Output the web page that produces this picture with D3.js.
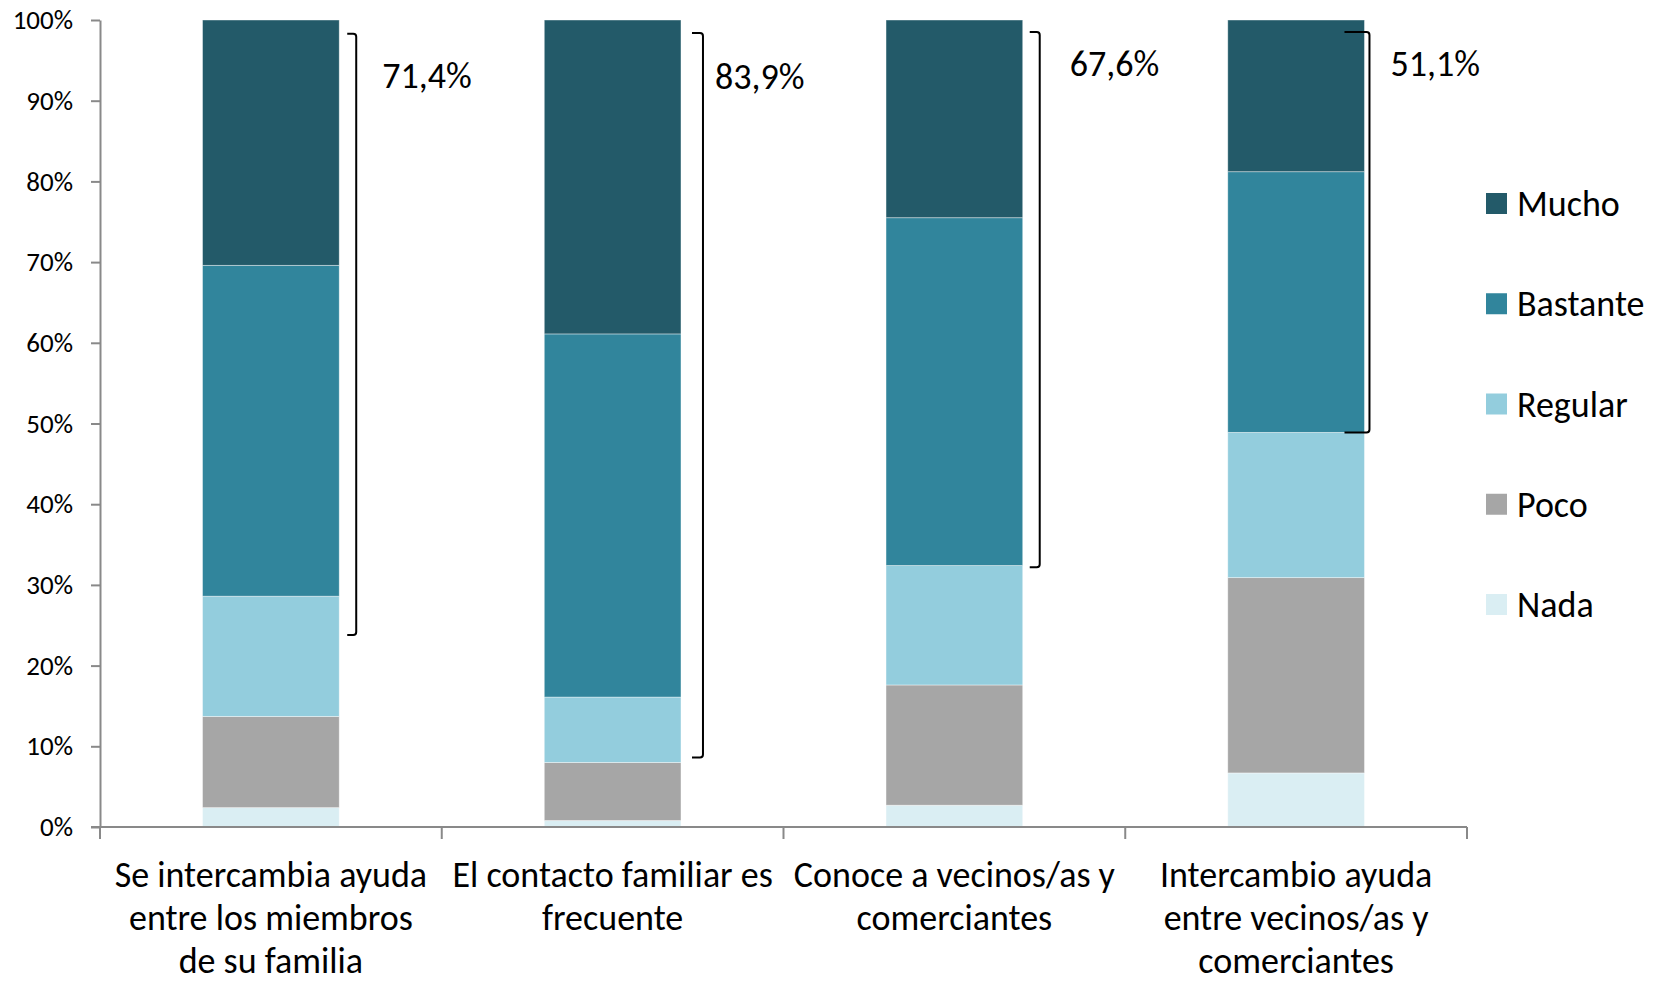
<!DOCTYPE html>
<html>
<head>
<meta charset="utf-8">
<script src="https://cdn.jsdelivr.net/npm/d3@7"></script>
<style>
  body { margin: 0; background: #fff; }
  text { font-family: Carlito, Calibri, Lato, sans-serif; fill: #000; }
</style>
</head>
<body>
<div id="chart"></div>
<script>
// data (percent of each answer)
var categories = [
    ["Se intercambia ayuda", "entre los miembros", "de su familia"],
    ["El contacto familiar es", "frecuente"],
    ["Conoce a vecinos/as y", "comerciantes"],
    ["Intercambio ayuda", "entre vecinos/as y", "comerciantes"]
];
var levels = ["Nada", "Poco", "Regular", "Bastante", "Mucho"];
var nada     = [2.4, 0.8, 2.7, 6.7];
var poco     = [11.3, 7.2, 14.9, 24.2];
var regular  = [14.9, 8.1, 14.8, 18.0];
var bastante = [41.0, 45.0, 43.1, 32.3];
var mucho    = [30.4, 38.9, 24.5, 18.8];
var yTicks = [0, 10, 20, 30, 40, 50, 60, 70, 80, 90, 100];

// brackets drawn on the right of each bar
var bracketLabels = ["71,4%", "83,9%", "67,6%", "51,1%"];
var bracketTop    = [98.3, 98.4, 98.5, 98.5];
var bracketBottom = [23.8, 8.6, 32.2, 48.9];

var colors = {
    Nada: "#daeef3",
    Poco: "#a6a6a6",
    Regular: "#93cddd",
    Bastante: "#31859c",
    Mucho: "#235a69"
};

var width = 1665, height = 984;
var plot = { left: 100, right: 1467, top: 20, bottom: 827 };

var svg = d3.select("#chart")
    .append("svg")
    .attr("width", width)
    .attr("height", height);

var keys = categories.map(function(c) { return c.join(" "); });

var rows = keys.map(function(k, i) {
    return { key: k, Nada: nada[i], Poco: poco[i], Regular: regular[i], Bastante: bastante[i], Mucho: mucho[i] };
});

var x = d3.scaleBand()
    .domain(keys)
    .range([plot.left, plot.right])
    .paddingInner(0.6)
    .paddingOuter(0.3);

var y = d3.scaleLinear()
    .domain([0, 100])
    .range([plot.bottom, plot.top]);

var stack = d3.stack().keys(levels)(rows);

// bars
svg.append("g")
    .selectAll("g")
    .data(stack)
    .enter()
    .append("g")
    .attr("fill", function(d) { return colors[d.key]; })
    .selectAll("rect")
    .data(function(d) { return d; })
    .enter()
    .append("rect")
    .attr("x", function(d) { return x(d.data.key); })
    .attr("y", function(d) { return y(d[1]); })
    .attr("width", x.bandwidth())
    .attr("height", function(d) { return y(d[0]) - y(d[1]); })
    .attr("stroke", "#ffffff")
    .attr("stroke-opacity", 0.5)
    .attr("stroke-width", 0.8);

// y axis
var yAxis = svg.append("g")
    .attr("transform", "translate(" + plot.left + ",0)")
    .call(d3.axisLeft(y)
        .tickValues(yTicks)
        .tickSize(9)
        .tickSizeOuter(0)
        .tickPadding(18)
        .tickFormat(function(d) { return d + "%"; }));
yAxis.select(".domain").attr("stroke", "#898989").attr("stroke-width", 2);
yAxis.selectAll(".tick line").attr("stroke", "#898989").attr("stroke-width", 2);
yAxis.selectAll(".tick text")
    .attr("font-size", "27px")
    .attr("font-family", "Carlito, Calibri, Lato, sans-serif")
    .attr("fill", "#000");

// x axis: line and ticks between categories
var step = x.step();
var xStart = x(keys[0]) - step * x.paddingOuter();
var boundaries = d3.range(keys.length + 1).map(function(i) { return xStart + i * step; });

svg.append("line")
    .attr("x1", plot.left - 9)
    .attr("x2", plot.right)
    .attr("y1", y(0))
    .attr("y2", y(0))
    .attr("stroke", "#898989")
    .attr("stroke-width", 2);

svg.append("g")
    .selectAll("line")
    .data(boundaries)
    .enter()
    .append("line")
    .attr("x1", function(d) { return d; })
    .attr("x2", function(d) { return d; })
    .attr("y1", y(0))
    .attr("y2", y(0) + 12)
    .attr("stroke", "#898989")
    .attr("stroke-width", 2);

// category labels
svg.append("g")
    .selectAll("text")
    .data(categories)
    .enter()
    .append("text")
    .attr("text-anchor", "middle")
    .attr("font-size", "36px")
    .attr("y", 887)
    .each(function(lines, i) {
        var t = d3.select(this);
        var cx = x(keys[i]) + x.bandwidth() / 2;
        lines.forEach(function(line, j) {
            t.append("tspan")
                .attr("x", cx)
                .attr("dy", j === 0 ? 0 : 43)
                .text(line);
        });
    });

// brackets
var bracketX = [[8, 17], [11, 22], [7, 17], [-20, 5]];
var labelDx = [43, 34, 47, 26];
var labelY = [88, 89, 76, 76];

svg.append("g")
    .selectAll("path")
    .data(keys)
    .enter()
    .append("path")
    .attr("fill", "none")
    .attr("stroke", "#000")
    .attr("stroke-width", 2)
    .attr("d", function(k, i) {
        var right = x(k) + x.bandwidth();
        var x0 = right + bracketX[i][0], x1 = right + bracketX[i][1];
        var yt = y(bracketTop[i]), yb = y(bracketBottom[i]);
        var r = 3;
        return "M" + x0 + "," + yt +
            "L" + (x1 - r) + "," + yt +
            "Q" + x1 + "," + yt + " " + x1 + "," + (yt + r) +
            "L" + x1 + "," + (yb - r) +
            "Q" + x1 + "," + yb + " " + (x1 - r) + "," + yb +
            "L" + x0 + "," + yb;
    });

svg.append("g")
    .selectAll("text")
    .data(bracketLabels)
    .enter()
    .append("text")
    .attr("x", function(d, i) { return x(keys[i]) + x.bandwidth() + labelDx[i]; })
    .attr("y", function(d, i) { return labelY[i]; })
    .attr("font-size", "36px")
    .text(function(d) { return d; });

// legend
var legendOrder = levels.slice().reverse();
var legend = svg.append("g")
    .selectAll("g")
    .data(legendOrder)
    .enter()
    .append("g")
    .attr("transform", function(d, i) { return "translate(1486," + (203.5 + i * 100.25) + ")"; });

legend.append("rect")
    .attr("x", 0)
    .attr("y", -10.5)
    .attr("width", 21)
    .attr("height", 21)
    .attr("fill", function(d) { return colors[d]; });

legend.append("text")
    .attr("x", 31)
    .attr("dy", "0.35em")
    .attr("font-size", "36px")
    .text(function(d) { return d; });
</script>
</body>
</html>
